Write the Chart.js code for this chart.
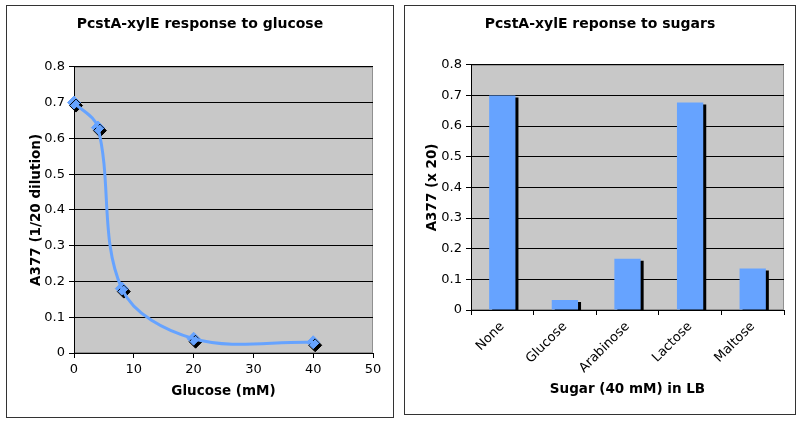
<!DOCTYPE html>
<html>
<head>
<meta charset="utf-8">
<script src="https://cdn.jsdelivr.net/npm/chart.js@4"></script>
<style>
  body { margin: 0; background: #fff; }
  .panel { position: absolute; border: 1px solid #333; background: #fff; }
  #leftBox { left: 6px; top: 5px; width: 386px; height: 411px; }
  #rightBox { left: 404px; top: 5px; width: 390px; height: 408px; }
</style>
</head>
<body>
<div class="panel" id="leftBox"><canvas id="glucoseChart" width="386" height="411"></canvas></div>
<div class="panel" id="rightBox"><canvas id="sugarChart" width="390" height="408"></canvas></div>
<script>
// data
const glucoseMM = [0, 4, 8, 20, 40];
const a377Glucose = [0.70, 0.63, 0.18, 0.04, 0.03];
const sugars = ['None', 'Glucose', 'Arabinose', 'Lactose', 'Maltose'];
const a377Sugars = [0.70, 0.033, 0.167, 0.677, 0.135];
const yTicks = [0, 0.1, 0.2, 0.3, 0.4, 0.5, 0.6, 0.7, 0.8];

const blue = '#66a3ff';
const plotGrey = '#c8c8c8';

Chart.defaults.font.family = 'DejaVu Sans';
Chart.defaults.font.size = 13;
Chart.defaults.color = '#000';

const axisTitleFont = { size: 13.5, weight: 'bold' };
const chartTitleFont = { size: 14, weight: 'bold' };

// grey plot background
const plotBg = {
    id: 'plotBg',
    beforeDraw(chart) {
        const a = chart.chartArea;
        const ctx = chart.ctx;
        ctx.save();
        ctx.fillStyle = plotGrey;
        ctx.fillRect(a.left, a.top, a.right - a.left, a.bottom - a.top);
        ctx.strokeStyle = '#909090';
        ctx.lineWidth = 1;
        ctx.strokeRect(a.left + 0.5, a.top + 0.5, a.right - a.left - 1, a.bottom - a.top - 1);
        ctx.restore();
    }
};

// black drop shadow on marked datasets
const dropShadow = {
    id: 'dropShadow',
    beforeDatasetDraw(chart, args) {
        const s = args.meta._dataset.shadow;
        if (!s) return;
        chart.ctx.save();
        chart.ctx.shadowColor = '#000';
        chart.ctx.shadowBlur = 0;
        chart.ctx.shadowOffsetX = s[0];
        chart.ctx.shadowOffsetY = s[1];
    },
    afterDatasetDraw(chart, args) {
        if (args.meta._dataset.shadow) chart.ctx.restore();
    }
};

function yAxis(title, width, titlePad) {
    return {
        min: 0,
        max: 0.8,
        afterBuildTicks: axis => { axis.ticks = yTicks.map(v => ({ value: v })); },
        afterFit: axis => { axis.width = width; },
        ticks: { padding: 4, callback: v => String(+v.toFixed(1)) },
        grid: { color: '#000', tickLength: 5 },
        border: { color: '#000' },
        title: { display: true, text: title, font: axisTitleFont, padding: { top: titlePad, bottom: 0 } }
    };
}

// empty right-hand strip so the chart title stays centred on the panel
function spacer(width) {
    return {
        position: 'right',
        min: 0,
        max: 1,
        grid: { display: false },
        border: { display: false },
        ticks: { display: false },
        afterFit: axis => { axis.width = width; }
    };
}

const glucosePoints = glucoseMM.map((x, i) => ({ x: x, y: a377Glucose[i] }));

new Chart(document.getElementById('glucoseChart'), {
    type: 'line',
    data: {
        datasets: [{
            data: glucosePoints,
            borderColor: blue,
            borderWidth: 3,
            tension: 0.35,
            pointRadius: 0,
            fill: false
        }, {
            data: glucosePoints,
            showLine: false,
            clip: false,
            pointStyle: 'rectRot',
            pointRadius: 6.5,
            pointBackgroundColor: blue,
            pointBorderColor: blue,
            shadow: [2, 3]
        }]
    },
    options: {
        responsive: false,
        animation: false,
        layout: { padding: { top: 0, right: 0, bottom: 13, left: 0 } },
        plugins: {
            legend: { display: false },
            tooltip: { enabled: false },
            title: {
                display: true,
                text: 'PcstA-xylE response to glucose',
                font: chartTitleFont,
                padding: { top: 10, bottom: 34 }
            }
        },
        scales: {
            x: {
                type: 'linear',
                min: 0,
                max: 50,
                afterFit: axis => { axis.height = 51; },
                ticks: { stepSize: 10, padding: 4 },
                grid: { display: true, drawOnChartArea: false, color: '#000', tickLength: 5 },
                border: { color: '#000' },
                title: { display: true, text: 'Glucose (mM)', font: axisTitleFont, padding: { top: 4, bottom: 4 } }
            },
            y: yAxis('A377 (1/20 dilution)', 67, 21),
            pad: spacer(20)
        }
    },
    plugins: [plotBg, dropShadow]
});

new Chart(document.getElementById('sugarChart'), {
    type: 'bar',
    data: {
        labels: sugars,
        datasets: [{
            data: a377Sugars,
            backgroundColor: blue,
            barPercentage: 0.42,
            categoryPercentage: 1,
            shadow: [3, 2]
        }]
    },
    options: {
        responsive: false,
        animation: false,
        layout: { padding: { top: 0, right: 0, bottom: 12, left: 0 } },
        plugins: {
            legend: { display: false },
            tooltip: { enabled: false },
            title: {
                display: true,
                text: 'PcstA-xylE reponse to sugars',
                font: chartTitleFont,
                padding: { top: 10, bottom: 32 }
            }
        },
        scales: {
            x: {
                afterFit: axis => { axis.height = 92; },
                ticks: { minRotation: 45, maxRotation: 45, padding: 4 },
                grid: { display: true, drawOnChartArea: false, offset: true, color: '#000', tickLength: 5 },
                border: { color: '#000' },
                title: { display: true, text: 'Sugar (40 mM) in LB', font: axisTitleFont, padding: { top: 4, bottom: 4 } }
            },
            y: yAxis('A377 (x 20)', 66, 19),
            pad: spacer(11)
        }
    },
    plugins: [plotBg, dropShadow]
});
</script>
</body>
</html>
